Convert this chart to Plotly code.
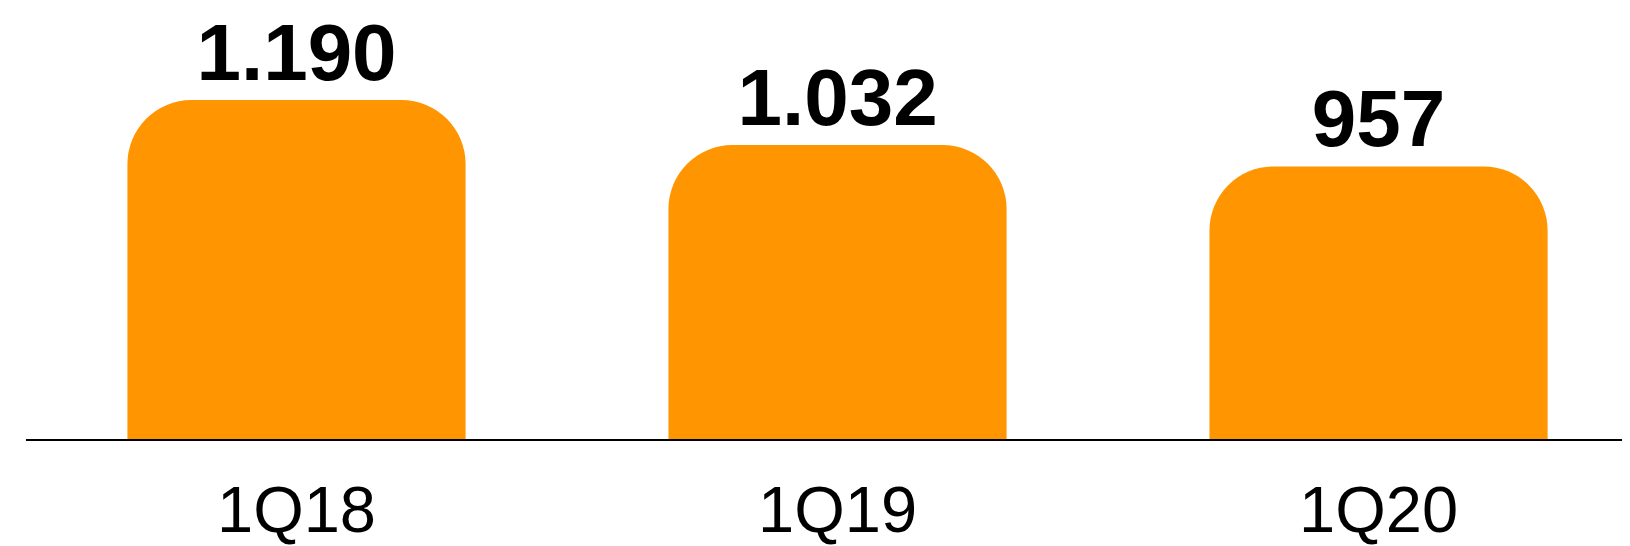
import plotly.graph_objects as go

categories = ["1Q18", "1Q19", "1Q20"]
values = [1190, 1032, 957]
value_labels = ["1.190", "1.032", "957"]

fig = go.Figure()
fig.add_trace(go.Bar(
    x=categories,
    y=values,
    width=0.625,
    marker=dict(color="#FF9500", cornerradius=64, line=dict(width=0)),
    text=value_labels,
    textposition="outside",
    textfont=dict(family="Liberation Sans, Arial, sans-serif", size=80, color="#000000", weight="bold"),
    cliponaxis=False,
    hoverinfo="skip",
))

# page body adds an 8px margin, so the figure is sized/offset to compensate
fig.update_layout(
    width=1614,
    height=538,
    margin=dict(l=18, r=0, t=0, b=107, autoexpand=False),
    paper_bgcolor="#FFFFFF",
    plot_bgcolor="#FFFFFF",
    showlegend=False,
    xaxis=dict(
        range=[-0.5, 2.45],
        automargin=False,
        showline=True,
        linecolor="#000000",
        linewidth=2,
        showgrid=False,
        zeroline=False,
        ticks="outside",
        ticklen=13,
        tickcolor="rgba(0,0,0,0)",
        tickfont=dict(family="Liberation Sans, Arial, sans-serif", size=65, color="#000000"),
    ),
    yaxis=dict(
        range=[0, 1513],
        automargin=False,
        visible=False,
        showgrid=False,
        zeroline=False,
    ),
)

fig.write_html("out.html")
